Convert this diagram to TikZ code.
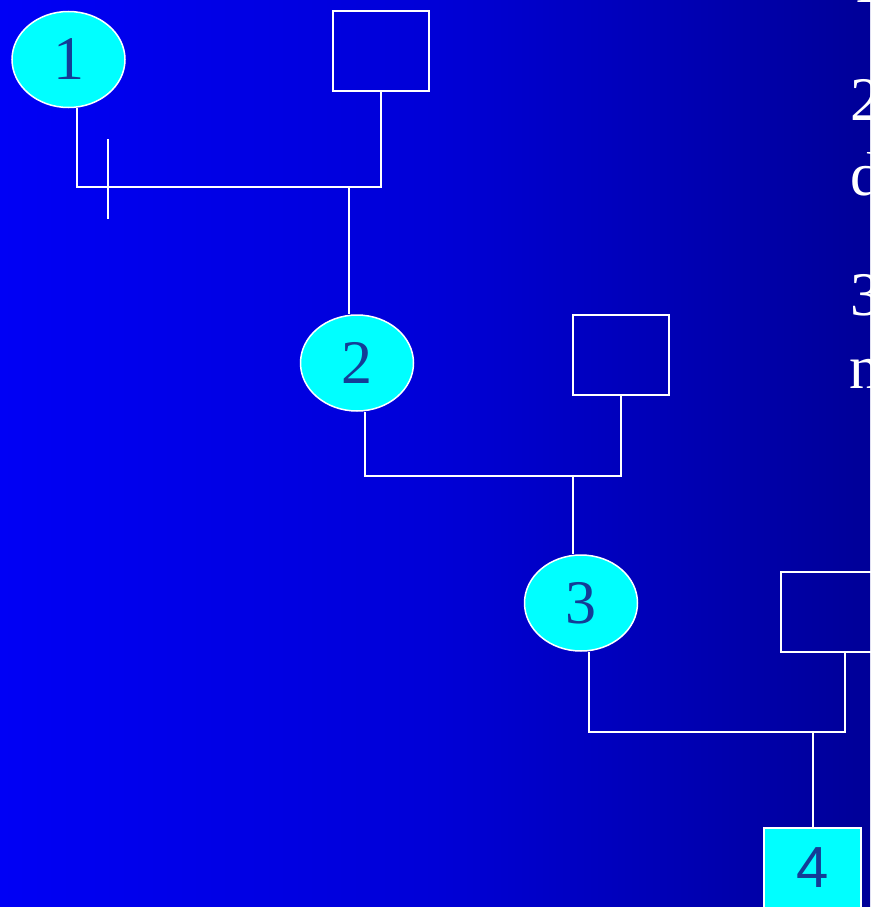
\documentclass[tikz,border=0pt]{standalone}
\usepackage{fontspec}
\setmainfont{Liberation Serif}
\newfontfamily\numsans{Liberation Sans}
\usetikzlibrary{shapes.geometric}
\definecolor{bgleft}{RGB}{0,0,245}
\definecolor{bgmid}{RGB}{0,0,215}
\definecolor{bgright}{RGB}{0,0,152}
\definecolor{numcol}{RGB}{20,60,150}
\definecolor{cyanfill}{RGB}{0,255,255}
\tikzset{
  person/.style={ellipse, draw=white, line width=1.5pt, fill=cyanfill, minimum width=113pt, minimum height=96pt, inner sep=0pt, text=numcol, font=\fontsize{62}{62}\selectfont},
  emptybox/.style={rectangle, draw=white, line width=1.5pt, minimum width=96pt, minimum height=80pt, inner sep=0pt},
  filledbox/.style={rectangle, draw=white, line width=1.5pt, fill=cyanfill, minimum width=97pt, minimum height=80pt, inner sep=0pt, text=numcol, font=\numsans\fontsize{58}{58}\selectfont},
  link/.style={draw=white, line width=1.5pt},
  sidetext/.style={anchor=base west, inner sep=0pt, text=white, font=\fontsize{62}{62}\selectfont}
}
\begin{document}
\begin{tikzpicture}[x=1pt,y=-1pt]
\useasboundingbox (0,0) rectangle (870,907);
\shade[left color=bgleft, right color=bgright, middle color=bgmid] (0,0) rectangle (870,907);
% right side text (cut off)
\node[sidetext] (s1) at (852,3) {1};
\node[sidetext] (s2) at (850,120) {2};
\node[sidetext] (s3) at (850,195) {d};
\node[sidetext] (s4) at (850,315) {3};
\node[sidetext] (s5) at (849,388) {n};
% nodes
\node[person] (e1) at (68.5,59.5) {1};
\node[emptybox] (b1) at (381,51) {};
\node[person] (e2) at (357,363) {2};
\node[emptybox] (b2) at (621,355) {};
\node[person] (e3) at (581,603) {3};
\node[emptybox, minimum width=128pt] (b3) at (845,612) {};
\node[filledbox] (b4) at (812.5,868) {4};
% junctions
\coordinate (j1) at (349,187);
\coordinate (j2) at (573,476);
\coordinate (j3) at (813,732);
\coordinate (t1) at (108,139);
\coordinate (t2) at (108,219);
% connectors
\draw[link] ([xshift=8.5pt]e1.south) |- (j1) -| (b1.south);
\draw[link] (j1) -- (j1 |- e2.north);
\draw[link] (t1) -- (t2);
\draw[link] ([xshift=8pt]e2.south) |- (j2) -| (b2.south);
\draw[link] (j2) -- (j2 |- e3.north);
\draw[link] ([xshift=8pt]e3.south) |- (j3) -| (b3.south);
\draw[link] (j3) -- (j3 |- b4.north);
\end{tikzpicture}
\end{document}
